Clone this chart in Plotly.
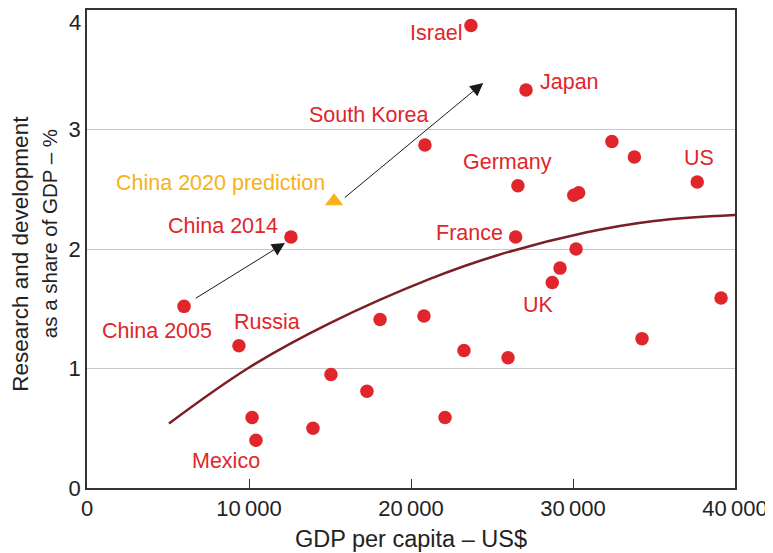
import plotly.graph_objects as go

# --- Data ---
gdp_pc = [5990, 9380, 12590, 10190, 10430, 13950, 15060, 17280, 18090, 20800,
          20860, 22100, 23270, 23700, 25990, 26600, 26460, 27100, 28720, 29200,
          30190, 30050, 30350, 32400, 33790, 37670, 34260, 39140]
rd_share = [1.52, 1.19, 2.10, 0.59, 0.40, 0.50, 0.95, 0.81, 1.41, 1.44,
            2.87, 0.59, 1.15, 3.87, 1.09, 2.53, 2.10, 3.33, 1.72, 1.84,
            2.00, 2.45, 2.47, 2.90, 2.77, 2.56, 1.25, 1.59]

pred_gdp = [15250]
pred_rd = [2.40]

trend_gdp = [5060, 10060, 15000, 21170, 25290, 30850, 35000, 40000]
trend_rd = [0.54, 1.013, 1.38, 1.75, 1.946, 2.14, 2.235, 2.285]

label_text = ["Israel", "Japan", "South Korea", "Germany", "US", "China 2014",
              "France", "China 2005", "Russia", "UK", "Mexico"]
label_x = [21600, 29810, 17410, 25930, 37780, 8400, 23640, 4320, 11110, 27900, 8580]
label_y = [3.81, 3.40, 3.12, 2.73, 2.76, 2.19, 2.13, 1.31, 1.39, 1.53, 0.23]

pred_label = "China 2020 prediction"
pred_label_x = [8270]
pred_label_y = [2.55]

arrow_start_x = [6620, 15820]
arrow_start_y = [1.58, 2.42]
arrow_end_x = [12220, 24460]
arrow_end_y = [2.05, 3.39]

x_ticks = [0, 10000, 20000, 30000, 40000]
x_ticktext = ["0", "10\u2009000", "20\u2009000", "30\u2009000", "40\u2009000"]
y_ticks = [0, 1, 2, 3, 4]
y_ticktext = ["0", "1", "2", "3", ""]   # the top "4" is drawn slightly lower, as in the reference

RED = "#e0262a"
ORANGE = "#f5b21a"
MAROON = "#7a1f24"
TXT = "#222222"
FONT = "Liberation Sans, Arial, sans-serif"

fig = go.Figure()
fig.add_trace(go.Scatter(x=trend_gdp, y=trend_rd, mode="lines",
                         line=dict(color=MAROON, width=2.5, shape="spline", smoothing=1.1),
                         hoverinfo="skip"))
fig.add_trace(go.Scatter(x=gdp_pc, y=rd_share, mode="markers",
                         marker=dict(color=RED, size=13.5, line=dict(width=0))))
fig.add_trace(go.Scatter(x=pred_gdp, y=pred_rd, mode="markers",
                         marker=dict(color=ORANGE, size=16, symbol="triangle-up",
                                     line=dict(width=0))))

annotations = []
for t, x, y in zip(label_text, label_x, label_y):
    annotations.append(dict(x=x, y=y, xref="x", yref="y", text=t, showarrow=False,
                            font=dict(family=FONT, size=21.5, color=RED)))
annotations.append(dict(x=pred_label_x[0], y=pred_label_y[0], xref="x", yref="y",
                        text=pred_label, showarrow=False,
                        font=dict(family=FONT, size=21.5, color=ORANGE)))
for sx, sy, ex, ey in zip(arrow_start_x, arrow_start_y, arrow_end_x, arrow_end_y):
    annotations.append(dict(x=ex, y=ey, ax=sx, ay=sy, xref="x", yref="y",
                            axref="x", ayref="y", text="", showarrow=True,
                            arrowhead=2, arrowsize=2.6, arrowwidth=1,
                            arrowcolor="#1a1a1a"))
# y-axis title (two lines)
annotations.append(dict(x=0, y=0.49, xref="paper", yref="paper", xshift=-66,
                        text="Research and development", textangle=-90,
                        showarrow=False, xanchor="center", yanchor="middle",
                        font=dict(family=FONT, size=22.5, color=TXT)))
annotations.append(dict(x=0, y=0.531, xref="paper", yref="paper", xshift=-38,
                        text="as a share of GDP – %", textangle=-90,
                        showarrow=False, xanchor="center", yanchor="middle",
                        font=dict(family=FONT, size=20.5, color=TXT)))
# top y tick label
annotations.append(dict(x=0, y=4, xref="paper", yref="y", xshift=-4, yshift=-12,
                        text="4", showarrow=False, xanchor="right", yanchor="middle",
                        font=dict(family=FONT, size=22, color=TXT)))

# The page body has an 8px margin; the figure is sized so it fits the window
fig.update_layout(
    width=765, height=545,
    margin=dict(l=79, r=38, t=2, b=65, autoexpand=False),
    paper_bgcolor="white", plot_bgcolor="white",
    showlegend=False,
    font=dict(family=FONT, size=22, color=TXT),
    annotations=annotations,
    xaxis=dict(range=[0, 40000], tickvals=x_ticks, ticktext=x_ticktext,
               showgrid=False, zeroline=False, showline=True, mirror=True,
               linecolor="#333333", linewidth=1.5,
               ticks="inside", ticklen=9, tickwidth=1, tickcolor="#333333",
               tickfont=dict(family=FONT, size=22, color=TXT),
               ticklabeloverflow="allow",
               title=dict(text="GDP per capita – US$", standoff=10,
                          font=dict(family=FONT, size=23.5, color=TXT)),
               automargin=False, fixedrange=True),
    yaxis=dict(range=[0, 4], tickvals=y_ticks, ticktext=y_ticktext,
               showgrid=True, gridcolor="#c8c8c8",
               gridwidth=1, zeroline=False, showline=True, mirror=True,
               linecolor="#333333", linewidth=1.5, ticks="",
               tickfont=dict(family=FONT, size=22, color=TXT),
               ticklabeloverflow="allow",
               automargin=False, fixedrange=True),
)

fig.write_html("out.html")
